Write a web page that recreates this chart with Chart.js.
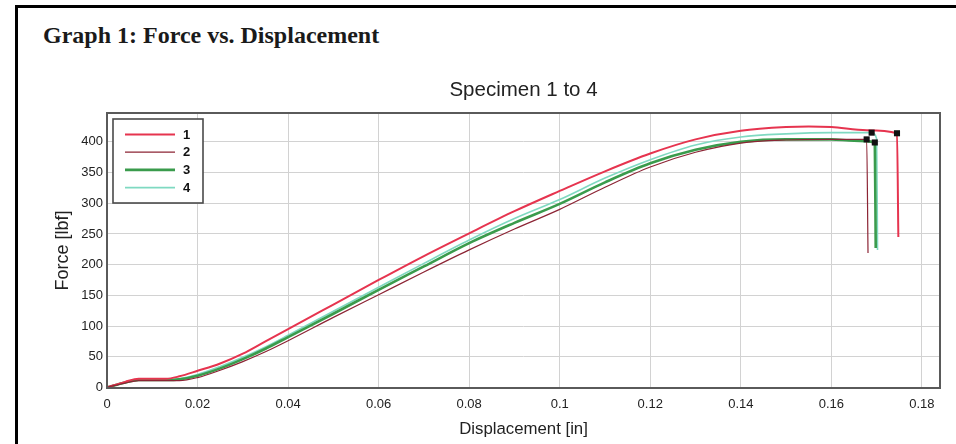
<!DOCTYPE html>
<html><head><meta charset="utf-8">
<script src="https://cdn.jsdelivr.net/npm/chart.js@4.4.1/dist/chart.umd.min.js"></script>
<style>
html,body{margin:0;padding:0;background:#fff;width:956px;height:444px;overflow:hidden;}
#frame{position:absolute;left:15px;top:5px;width:941px;height:439px;border-left:3px solid #000;border-top:3px solid #000;box-sizing:border-box;}
#hdr{position:absolute;left:43px;top:23px;line-height:24px;font-family:"Liberation Serif","Times New Roman",serif;font-weight:bold;font-size:24px;color:#1a1a1a;white-space:nowrap;}
#wrap{position:absolute;left:0;top:0;width:956px;height:444px;}
</style></head><body>
<div id="frame"></div>
<div id="hdr">Graph 1: Force vs. Displacement</div>
<div id="wrap"><canvas id="c" width="956" height="444"></canvas></div>
<script>
// ---- data ----
const seriesNames = ['1', '2', '3', '4'];

const s1X = [0, 0.004, 0.007, 0.010, 0.013, 0.016, 0.020, 0.025, 0.030, 0.035, 0.040, 0.050, 0.060, 0.070, 0.080, 0.090, 0.100, 0.110, 0.120, 0.130, 0.140, 0.150, 0.155, 0.160, 0.1678, 0.1745, 0.1748];
const s1Y = [0, 9, 14, 14, 14, 18, 27, 39, 55, 75, 95, 135, 175, 214, 251, 287, 320, 352, 381, 404, 418, 424, 425, 424, 419, 414, 245];

const s2X = [0, 0.004, 0.007, 0.010, 0.013, 0.016, 0.020, 0.025, 0.030, 0.035, 0.040, 0.050, 0.060, 0.070, 0.080, 0.090, 0.100, 0.110, 0.120, 0.130, 0.140, 0.150, 0.160, 0.1678, 0.1681];
const s2Y = [0, 7, 11, 11, 11, 11, 16, 28, 42, 58, 76, 114, 151, 188, 224, 258, 290, 326, 359, 383, 398, 403, 404, 404, 219];

const s3X = [0, 0.004, 0.007, 0.010, 0.013, 0.016, 0.020, 0.025, 0.030, 0.035, 0.040, 0.050, 0.060, 0.070, 0.080, 0.090, 0.100, 0.110, 0.120, 0.130, 0.140, 0.150, 0.160, 0.165, 0.1696, 0.1698];
const s3Y = [0, 8, 12, 12, 12, 13, 19, 31, 46, 63, 82, 120, 159, 197, 235, 268, 299, 334, 365, 387, 400, 404, 404, 402, 399, 227];

const s4X = [0, 0.004, 0.007, 0.010, 0.013, 0.016, 0.020, 0.025, 0.030, 0.035, 0.040, 0.050, 0.060, 0.070, 0.080, 0.090, 0.100, 0.110, 0.120, 0.130, 0.140, 0.150, 0.160, 0.1689, 0.1700, 0.1702];
const s4Y = [0, 8, 12, 12, 12, 14, 21, 34, 49, 66, 85, 124, 163, 202, 240, 275, 306, 341, 371, 395, 408, 413, 415, 415, 405, 224];

// break-point markers (black squares)
const markX = [0.1745, 0.1678, 0.1696, 0.1689];
const markY = [414, 404, 399, 415];

const xTickValues = [0, 0.02, 0.04, 0.06, 0.08, 0.10, 0.12, 0.14, 0.16, 0.18];
const xTickLabels = ['0', '0.02', '0.04', '0.06', '0.08', '0.1', '0.12', '0.14', '0.16', '0.18'];
const yTickValues = [0, 50, 100, 150, 200, 250, 300, 350, 400];
const yTickLabels = ['0', '50', '100', '150', '200', '250', '300', '350', '400'];

const chartTitle = 'Specimen 1 to 4';

// ---- build ----
const pts = (xs, ys) => xs.map((x, i) => ({x: x, y: ys[i]}));
const colors = ['#e6344f', '#8c2434', '#3a9b4c', '#7fd9c1'];
const widths = [2, 1.2, 2.6, 1.6];
const orders = [2, 1, 3, 4];
const seriesData = [pts(s1X, s1Y), pts(s2X, s2Y), pts(s3X, s3Y), pts(s4X, s4Y)];

const datasets = seriesData.map((d, i) => ({
  label: seriesNames[i], data: d, borderColor: colors[i], backgroundColor: colors[i],
  borderWidth: widths[i], pointRadius: 0, fill: false, order: orders[i],
  cubicInterpolationMode: 'monotone'
}));
datasets.push({
  label: 'markers', data: pts(markX, markY), showLine: false, pointStyle: 'rect',
  pointRadius: 4.3, backgroundColor: '#111', borderColor: '#111', borderWidth: 0, order: 0
});

const font = 'Liberation Sans, Arial, Helvetica, sans-serif';

const framePlugin = {
  id: 'plotFrame',
  afterDatasetsDraw(chart) {
    const {ctx, chartArea: a} = chart;
    ctx.save();
    // chart title centred over plot
    ctx.fillStyle = '#222';
    ctx.font = '20.5px ' + font;
    ctx.textAlign = 'center';
    ctx.textBaseline = 'middle';
    ctx.fillText(chartTitle, (a.left + a.right) / 2, 90);
    // legend box inside plot
    const bx = a.left + 6, by = a.top + 6, bw = 90, bh = 84;
    ctx.fillStyle = '#fff';
    ctx.fillRect(bx, by, bw, bh);
    ctx.strokeStyle = '#4a4a4a';
    ctx.lineWidth = 1.6;
    ctx.strokeRect(bx, by, bw, bh);
    seriesNames.forEach((name, i) => {
      const ds = chart.data.datasets[i];
      const y = by + 15.5 + i * 17.7;
      ctx.beginPath();
      ctx.strokeStyle = ds.borderColor;
      ctx.lineWidth = ds.borderWidth;
      ctx.moveTo(bx + 12, y);
      ctx.lineTo(bx + 62, y);
      ctx.stroke();
      ctx.fillStyle = '#111';
      ctx.font = 'bold 13px ' + font;
      ctx.textAlign = 'left';
      ctx.textBaseline = 'middle';
      ctx.fillText(name, bx + 70, y + 0.5);
    });
    // plot border
    ctx.strokeStyle = '#5a5a5a';
    ctx.lineWidth = 2;
    ctx.strokeRect(a.left, a.top, a.right - a.left, a.bottom - a.top);
    ctx.restore();
  }
};

const tickLabel = (vals, labs) => function (value) {
  const i = vals.findIndex(t => Math.abs(t - value) < 1e-9);
  return i >= 0 ? labs[i] : '';
};

new Chart(document.getElementById('c'), {
  type: 'line',
  data: {datasets: datasets},
  options: {
    responsive: false, animation: false, devicePixelRatio: 1,
    layout: {padding: {left: 44, right: 16, top: 113, bottom: 0}},
    plugins: {
      legend: {display: false},
      tooltip: {enabled: false},
      title: {display: false}
    },
    scales: {
      x: {
        type: 'linear', min: 0, max: 0.184,
        afterFit(s) { s.height = 56; },
        afterBuildTicks(s) { s.ticks = xTickValues.map(v => ({value: v})); },
        grid: {color: '#d2d2d2', lineWidth: 1, drawTicks: false},
        border: {display: false},
        ticks: {autoSkip: false, maxRotation: 0,
          padding: 9, color: '#222', font: {family: font, size: 13},
          callback: tickLabel(xTickValues, xTickLabels)},
        title: {display: true, text: 'Displacement [in]', color: '#222',
          font: {family: font, size: 16.8}, padding: {top: 0, bottom: 5}}
      },
      y: {
        type: 'linear', min: -1, max: 447,
        afterFit(s) { s.width = 63; },
        afterBuildTicks(s) { s.ticks = yTickValues.map(v => ({value: v})); },
        grid: {color: '#d2d2d2', lineWidth: 1, drawTicks: false},
        border: {display: false},
        ticks: {autoSkip: false,
          padding: 4, color: '#222', font: {family: font, size: 13},
          callback: tickLabel(yTickValues, yTickLabels)},
        title: {display: true, text: 'Force [lbf]', color: '#222',
          font: {family: font, size: 18}, padding: {top: 8, bottom: 0}}
      }
    }
  },
  plugins: [framePlugin]
});
</script>
</body></html>
